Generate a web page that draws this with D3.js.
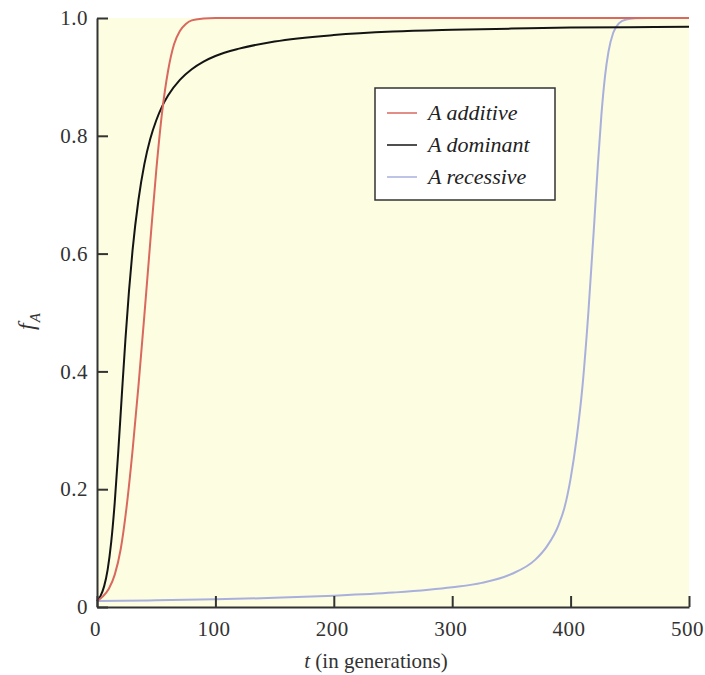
<!DOCTYPE html>
<html>
<head>
<meta charset="utf-8">
<script src="https://cdn.jsdelivr.net/npm/d3@7"></script>
<style>
  html, body { margin: 0; padding: 0; background: #ffffff; }
  svg { display: block; }
</style>
</head>
<body>
<svg id="chart" width="705" height="675"></svg>
<script>
// ---- data ----
const additiveT = [0, 5, 10, 15, 20, 25, 30, 35, 40, 45, 50, 55, 60, 65, 70, 75, 80, 90, 100, 200, 300, 400, 500];
const additiveF = [0.01, 0.018, 0.031, 0.055, 0.098, 0.17, 0.265, 0.375, 0.495, 0.62, 0.74, 0.84, 0.91, 0.955, 0.978, 0.99, 0.996, 0.999, 1.0, 1.0, 1.0, 1.0, 1.0];

const dominantT = [0, 3, 6, 9, 12, 15, 18, 21, 24, 27, 30, 35, 40, 45, 50, 55, 60, 70, 80, 90, 100, 120, 150, 200, 250, 300, 350, 400, 450, 500];
const dominantF = [0.01, 0.0189, 0.035, 0.0635, 0.11, 0.178, 0.265, 0.361, 0.454, 0.536, 0.605, 0.691, 0.752, 0.795, 0.826, 0.85, 0.8685, 0.895, 0.913, 0.926, 0.9355, 0.948, 0.96, 0.971, 0.977, 0.98, 0.982, 0.9837, 0.9845, 0.985];

const recessiveT = [0, 50, 100, 150, 200, 250, 300, 325, 350, 370, 380, 390, 395, 400, 405, 410, 415, 420, 423, 426, 429, 432, 436, 441, 447, 455, 465, 500];
const recessiveF = [0.0100, 0.0113, 0.0130, 0.0155, 0.0192, 0.0245, 0.0335, 0.041, 0.056, 0.080, 0.103, 0.14, 0.17, 0.218, 0.285, 0.374, 0.50, 0.653, 0.75, 0.835, 0.90, 0.943, 0.975, 0.9912, 0.9976, 0.9995, 1.0, 1.0];

const seriesNames = ["A additive", "A dominant", "A recessive"];
const seriesColors = ["#d9685e", "#141414", "#a9b0dc"];

const xTicks = [0, 100, 200, 300, 400, 500];
const yTicks = [0, 0.2, 0.4, 0.6, 0.8, 1.0];
const yTickLabels = ["0", "0.2", "0.4", "0.6", "0.8", "1.0"];

// ---- drawing ----
const svg = d3.select("#chart");
const x = d3.scaleLinear().domain([0, 500]).range([97, 689]);
const y = d3.scaleLinear().domain([0, 1]).range([607, 18]);

const serif = "'Liberation Serif', 'DejaVu Serif', serif";

// plot background
svg.append("rect")
  .attr("x", x(0)).attr("y", y(1))
  .attr("width", x(500) - x(0)).attr("height", y(0) - y(1))
  .attr("fill", "#fdfde2");

const series = [
  { t: additiveT, f: additiveF },
  { t: dominantT, f: dominantF },
  { t: recessiveT, f: recessiveF }
];

const line = d3.line()
  .x(d => x(d[0]))
  .y(d => y(d[1]))
  .curve(d3.curveMonotoneX);

// draw recessive first, then dominant, then additive
[2, 1, 0].forEach(i => {
  const s = series[i];
  const pts = s.t.map((t, k) => [t, s.f[k]]);
  svg.append("path")
    .datum(pts)
    .attr("d", line)
    .attr("fill", "none")
    .attr("stroke", seriesColors[i])
    .attr("stroke-width", 2);
});

// axes
const xAxis = d3.axisBottom(x)
  .tickValues(xTicks)
  .tickFormat(d3.format("d"))
  .tickSize(-11)
  .tickSizeOuter(0)
  .tickPadding(14);
const gx = svg.append("g").attr("transform", `translate(0,${y(0)})`).call(xAxis);

const yAxis = d3.axisLeft(y)
  .tickValues(yTicks)
  .tickFormat((d, i) => yTickLabels[i])
  .tickSize(-11)
  .tickSizeOuter(0)
  .tickPadding(9);
const gy = svg.append("g").attr("transform", `translate(${x(0)},0)`).call(yAxis);

[gx, gy].forEach(g => {
  g.select(".domain").attr("stroke", "#333").attr("stroke-width", 2);
  g.selectAll(".tick line").attr("stroke", "#333").attr("stroke-width", 2);
  g.selectAll(".tick text")
    .attr("fill", "#333")
    .style("font-family", serif)
    .style("font-size", "21px")
    .style("letter-spacing", "0.5px");
});
gx.selectAll(".tick text").attr("dx", "-2");

// axis titles
const xt = svg.append("text")
  .attr("x", 376).attr("y", 668)
  .attr("text-anchor", "middle")
  .attr("fill", "#333")
  .style("font-family", serif)
  .style("font-size", "21px");
xt.append("tspan").style("font-style", "italic").text("t");
xt.append("tspan").text(" (in generations)");

const yt = svg.append("text")
  .attr("transform", "translate(34,330) rotate(-90)")
  .attr("text-anchor", "start")
  .attr("fill", "#333")
  .style("font-family", serif)
  .style("font-size", "24px")
  .style("font-style", "italic");
yt.append("tspan").text("f");
yt.append("tspan").attr("dy", 6).attr("dx", 1).style("font-size", "15px").text("A");

// legend
const lg = svg.append("g");
lg.append("rect")
  .attr("x", 375).attr("y", 88)
  .attr("width", 180).attr("height", 112)
  .attr("fill", "#ffffff")
  .attr("stroke", "#333")
  .attr("stroke-width", 1.5);
const rowY = [113, 145, 177];
seriesNames.forEach((name, i) => {
  lg.append("line")
    .attr("x1", 387).attr("x2", 417)
    .attr("y1", rowY[i]).attr("y2", rowY[i])
    .attr("stroke", seriesColors[i])
    .attr("stroke-width", 1.5);
  lg.append("text")
    .attr("x", 428).attr("y", rowY[i] + 7)
    .attr("fill", "#222")
    .style("font-family", serif)
    .style("font-size", "22px")
    .style("font-style", "italic")
    .text(name);
});
</script>
</body>
</html>
